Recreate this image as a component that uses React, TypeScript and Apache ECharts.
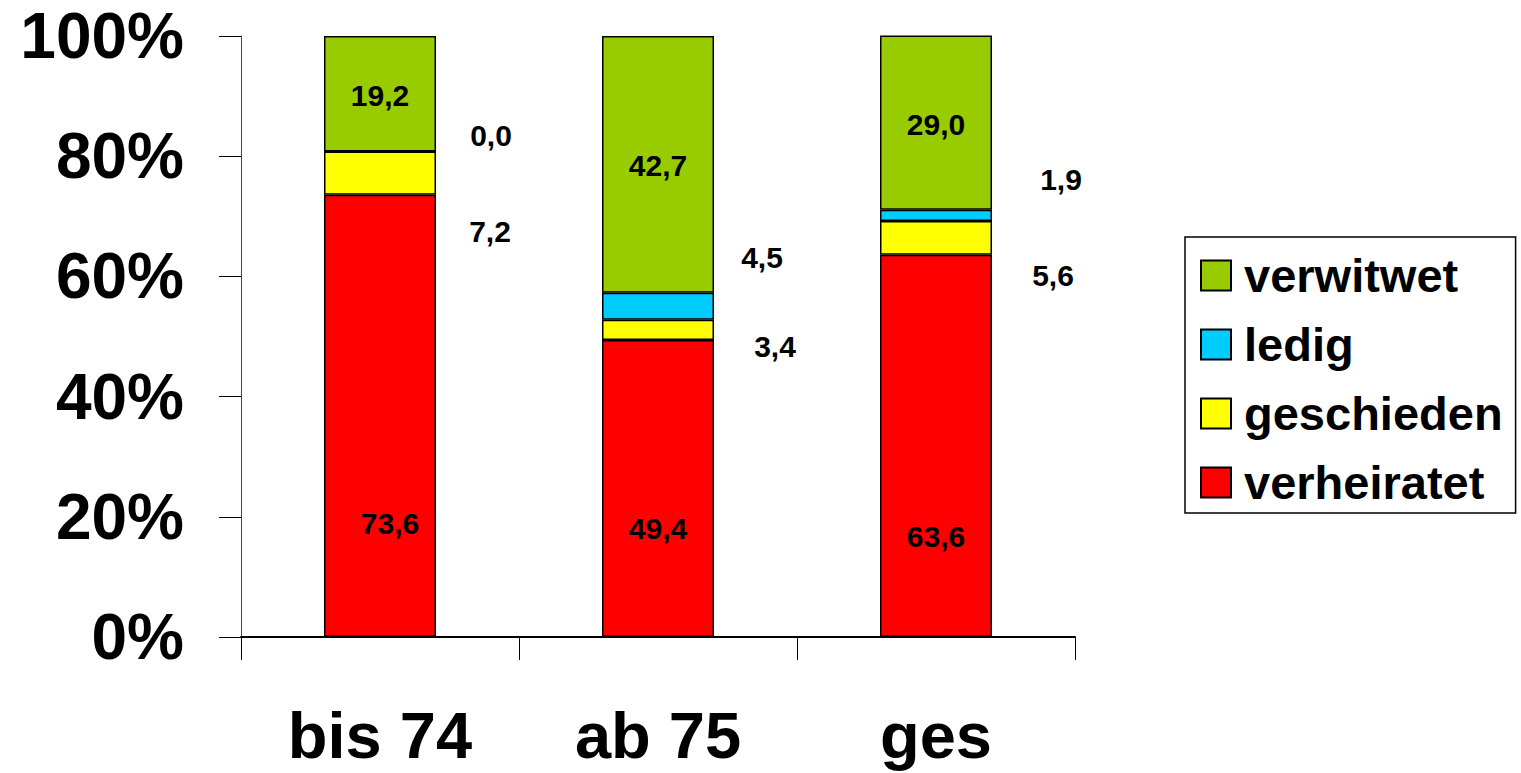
import React, { useEffect, useRef } from "react";
import * as echarts from "echarts";

const categories = ["bis 74", "ab 75", "ges"];
const verheiratet = [73.6, 49.4, 63.6];
const geschieden = [7.2, 3.4, 5.6];
const ledig = [0.0, 4.5, 1.9];
const verwitwet = [19.2, 42.7, 29.0];
const yTicks = [0, 20, 40, 60, 80, 100];

// label offsets relative to the bar-segment centre
const offVerheiratet = [[10, 108], [0, 40], [0, 91]];
const offGeschieden = [[110, 58], [117, 17], [117, 38]];
const offLedig = [[111, -16], [104, -49], [125, -36]];
const offVerwitwet = [[0, 2], [0, 1], [0, 2]];

const FONT = "'Liberation Sans', Arial, Helvetica, sans-serif";

function mkSeries(name: string, values: number[], color: string, offs: number[][]) {
  return {
    name,
    type: "bar",
    stack: "total",
    barWidth: 112,
    itemStyle: { color, borderColor: "#000", borderWidth: 1.5 },
    data: values.map((v, i) => ({
      value: v,
      label: {
        show: true,
        position: "inside",
        offset: offs[i],
        formatter: () => v.toFixed(1).replace(".", ","),
        color: "#000",
        fontSize: 30,
        fontWeight: "bold",
        fontFamily: FONT,
      },
    })),
  };
}

export default function App() {
  const ref = useRef<HTMLDivElement>(null);
  useEffect(() => {
    if (!ref.current) return;
    const chart = echarts.init(ref.current, null, { renderer: "svg" });
    chart.setOption({
      animation: false,
      backgroundColor: "#fff",
      grid: { left: 241, right: 446, top: 36, bottom: 136, containLabel: false },
      legend: {
        orient: "vertical",
        left: 1185,
        top: 237,
        padding: [15, 13, 7, 15],
        icon: "rect",
        itemWidth: 30,
        itemHeight: 30,
        itemGap: 22,
        borderColor: "#000",
        borderWidth: 1.5,
        data: ["verwitwet", "ledig", "geschieden", "verheiratet"],
        textStyle: { fontSize: 47, fontWeight: "bold", color: "#000", fontFamily: FONT, padding: [0, 0, 0, 8] },
      },
      xAxis: {
        type: "category",
        data: categories,
        axisLine: { lineStyle: { color: "#000", width: 2 } },
        axisTick: { show: true, length: 23, lineStyle: { color: "#000", width: 1 } },
        axisLabel: { fontSize: 65, fontWeight: "bold", color: "#000", fontFamily: FONT, margin: 67, lineHeight: 62 },
      },
      yAxis: {
        type: "value",
        min: yTicks[0],
        max: yTicks[yTicks.length - 1],
        interval: 20,
        axisLine: { show: true, lineStyle: { color: "#444", width: 1 } },
        axisTick: { show: true, length: 22, lineStyle: { color: "#000", width: 1 } },
        splitLine: { show: false },
        axisLabel: {
          formatter: "{value}%",
          fontSize: 64,
          fontWeight: "bold",
          color: "#000",
          fontFamily: FONT,
          margin: 57,
        },
      },
      series: [
        mkSeries("verheiratet", verheiratet, "#FF0000", offVerheiratet),
        mkSeries("geschieden", geschieden, "#FFFF00", offGeschieden),
        mkSeries("ledig", ledig, "#00CCFF", offLedig),
        mkSeries("verwitwet", verwitwet, "#99CC00", offVerwitwet),
      ],
    });
    return () => chart.dispose();
  }, []);
  return (
    <div
      ref={ref}
      style={{ position: "absolute", left: 0, top: 0, width: 1521, height: 773 }}
    />
  );
}
